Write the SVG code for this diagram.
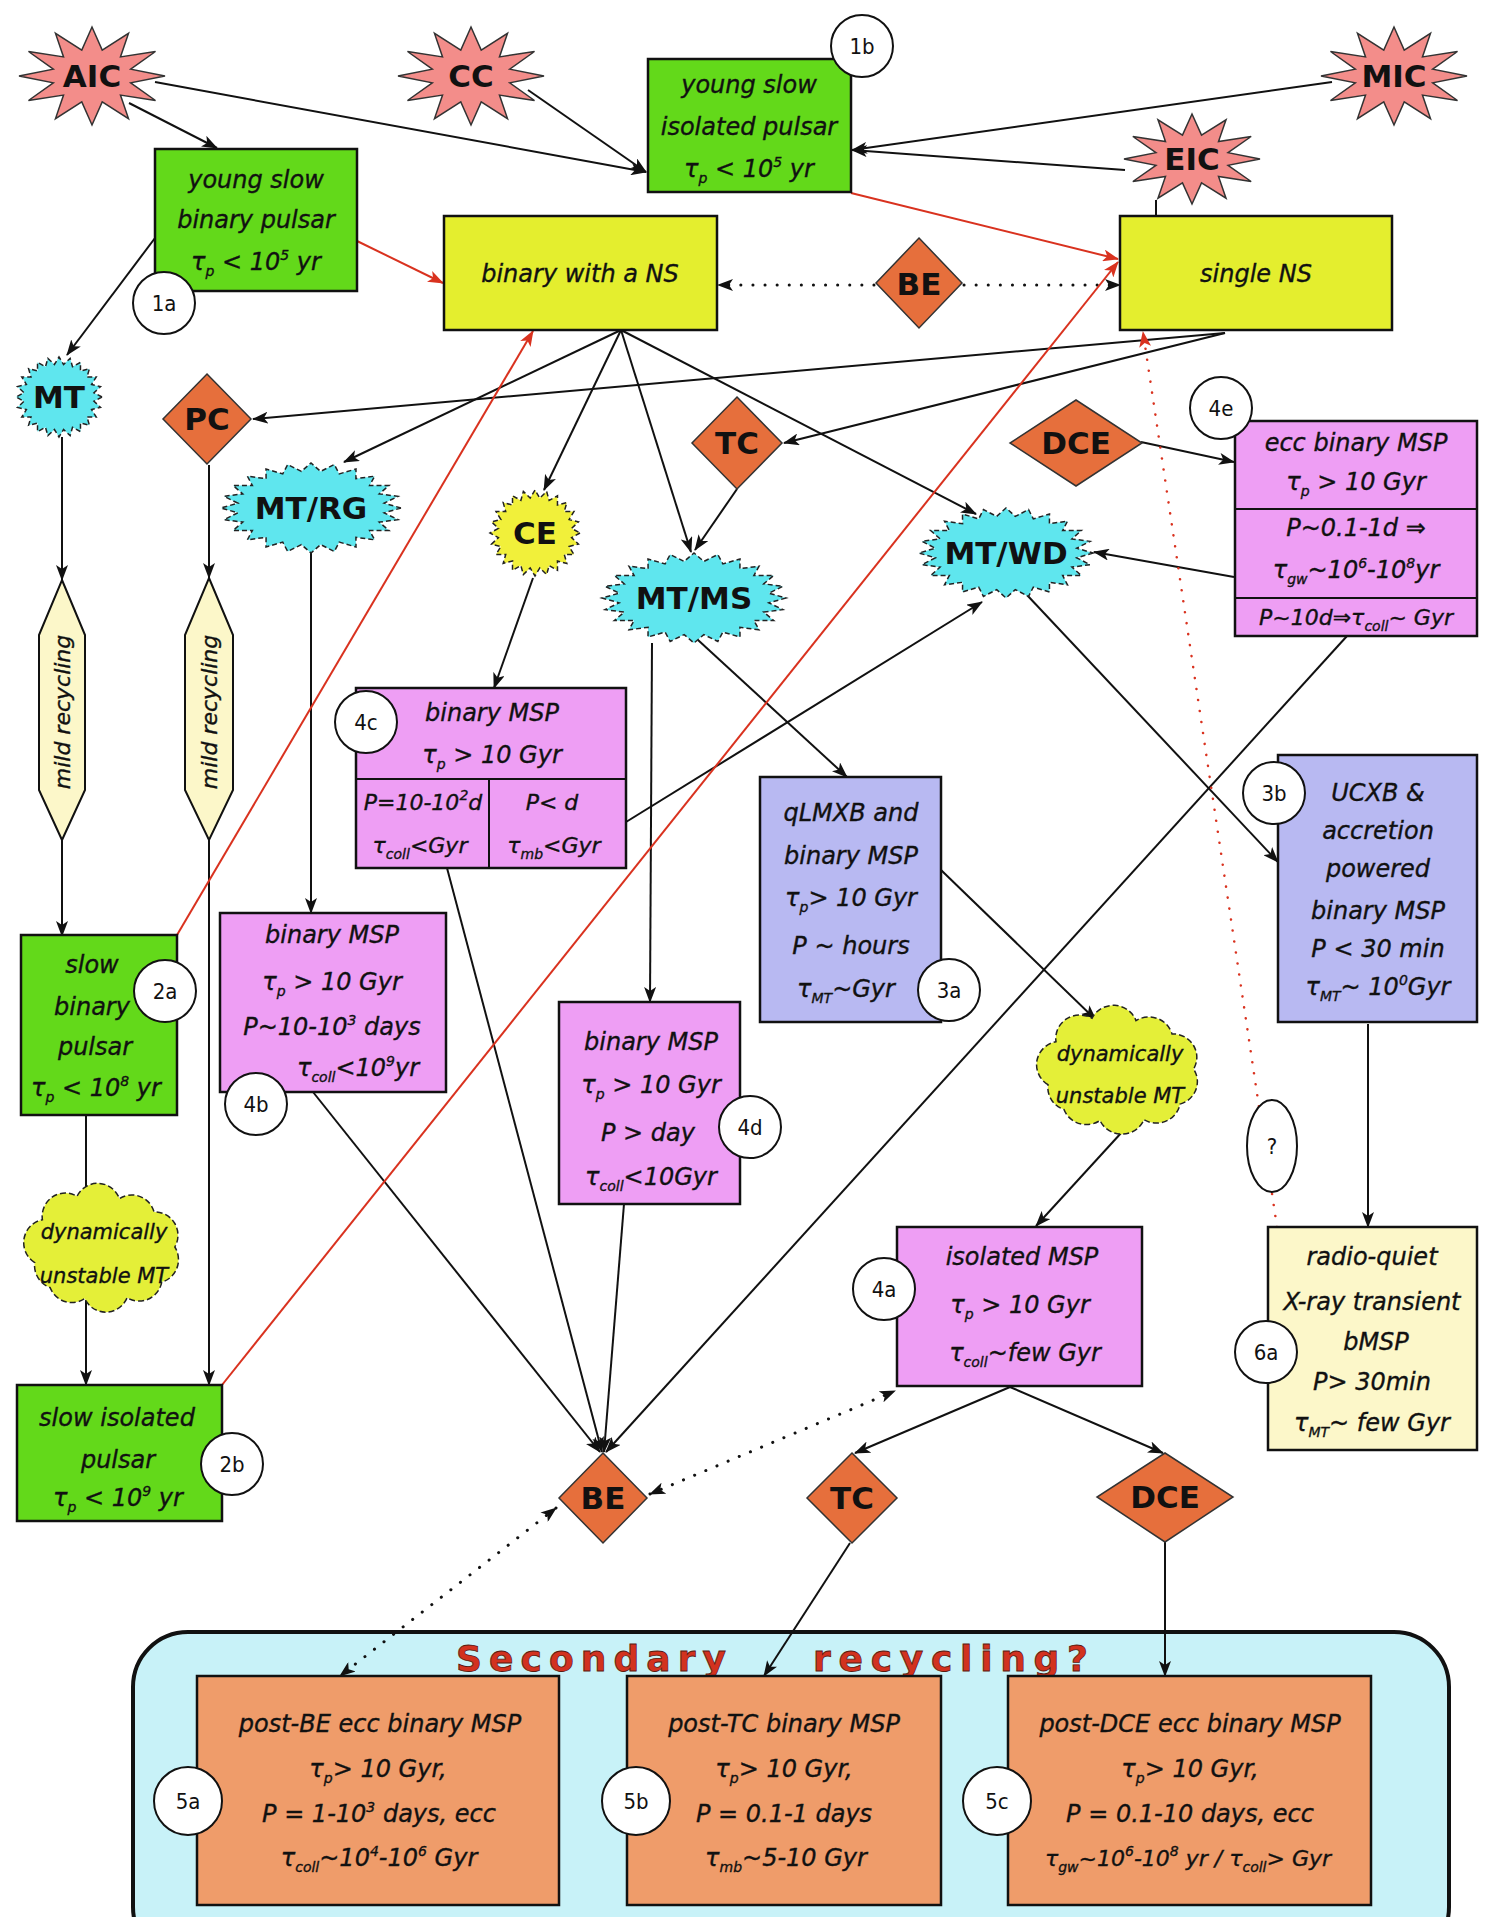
<svg xmlns="http://www.w3.org/2000/svg" width="1489" height="1917" viewBox="0 0 1489 1917">
<defs>
<style>
.t{font-family:"DejaVu Sans","Liberation Sans",sans-serif;font-style:italic;font-size:24px;text-anchor:middle;fill:#111;stroke:#111;stroke-width:0.35}
.s{font-size:14px}
.lb{font-family:"DejaVu Sans","Liberation Sans",sans-serif;font-weight:bold;font-size:31px;text-anchor:middle;fill:#111}
.n{font-family:"DejaVu Sans Condensed","DejaVu Sans",sans-serif;font-size:22px;text-anchor:middle;fill:#111}
.bx{stroke:#111;stroke-width:2.5}
.g{fill:#63d91a}.y{fill:#e4ee2e}.p{fill:#ee9ef4}.v{fill:#b8b9f2}.c{fill:#fcf7c9}.o{fill:#ef9c6a}
.dm{fill:#e66f3c;stroke:#333;stroke-width:1.5}
.pk{fill:#f38d8a;stroke:#333;stroke-width:1.5}
.cy{fill:#5fe6ee;stroke:#222;stroke-width:1.5;stroke-dasharray:5 3}
.ce{fill:#f1f03a;stroke:#222;stroke-width:1.5;stroke-dasharray:5 3}
.cl{fill:#e4ef38;stroke:#222;stroke-width:1.5;stroke-dasharray:6 3}
.ci{fill:#fff;stroke:#111;stroke-width:2}
.mr{fill:#fcf7c9;stroke:#111;stroke-width:2}
.k{fill:none;stroke:#111;stroke-width:2;marker-end:url(#a)}
.k0{fill:none;stroke:#111;stroke-width:2}
.r{fill:none;stroke:#d9321f;stroke-width:2;marker-end:url(#ar)}
.rd{fill:none;stroke:#d9321f;stroke-width:2.5;stroke-dasharray:0.1 11;stroke-linecap:round;marker-end:url(#ar)}
.d{fill:none;stroke:#111;stroke-width:3;stroke-dasharray:0.1 12;stroke-linecap:round;marker-end:url(#a)}
.d2{fill:none;stroke:#111;stroke-width:3;stroke-dasharray:0.1 12;stroke-linecap:round;marker-end:url(#a);marker-start:url(#a)}
.sr{font-family:"DejaVu Sans","Liberation Sans",sans-serif;font-weight:bold;font-size:36px;fill:#d2321f;stroke:#5a1a10;stroke-width:0.8}
</style>
<marker id="a" viewBox="0 0 16 12" refX="15" refY="6" markerWidth="16" markerHeight="12" markerUnits="userSpaceOnUse" orient="auto-start-reverse"><path d="M0,0 L16,6 L0,12 L4,6 z" fill="#111"/></marker>
<marker id="ar" viewBox="0 0 16 12" refX="15" refY="6" markerWidth="16" markerHeight="12" markerUnits="userSpaceOnUse" orient="auto-start-reverse"><path d="M0,0 L16,6 L0,12 L4,6 z" fill="#d9321f"/></marker>
<polygon id="pkb" vector-effect="non-scaling-stroke" points="1,0 .53,.14 .87,.5 .39,.39 .5,.87 .14,.53 0,1 -.14,.53 -.5,.87 -.39,.39 -.87,.5 -.53,.14 -1,0 -.53,-.14 -.87,-.5 -.39,-.39 -.5,-.87 -.14,-.53 0,-1 .14,-.53 .5,-.87 .39,-.39 .87,-.5 .53,-.14"/>
<polygon id="cyb" vector-effect="non-scaling-stroke" points="1,0 .813,.107 .966,.259 .758,.314 .866,.5 .651,.499 .707,.707 .499,.651 .5,.866 .314,.758 .259,.966 .107,.813 0,1 -.107,.813 -.259,.966 -.314,.758 -.5,.866 -.499,.651 -.707,.707 -.651,.499 -.866,.5 -.758,.314 -.966,.259 -.813,.107 -1,0 -.813,-.107 -.966,-.259 -.758,-.314 -.866,-.5 -.651,-.499 -.707,-.707 -.499,-.651 -.5,-.866 -.314,-.758 -.259,-.966 -.107,-.813 0,-1 .107,-.813 .259,-.966 .314,-.758 .5,-.866 .499,-.651 .707,-.707 .651,-.499 .866,-.5 .758,-.314 .966,-.259 .813,-.107"/>
<path id="cld" vector-effect="non-scaling-stroke" d="M-90,20 A30,30 0 0 1 -80,-35 A30,30 0 0 1 -35,-65 A30,30 0 0 1 20,-62 A30,30 0 0 1 65,-45 A30,30 0 0 1 92,0 A30,30 0 0 1 75,45 A30,30 0 0 1 30,65 A30,30 0 0 1 -25,66 A30,30 0 0 1 -70,52 A30,30 0 0 1 -90,20 Z"/>
</defs>
<rect width="1489" height="1917" fill="#fff"/>

<g id="secondary">
<rect x="133" y="1632" width="1316" height="330" rx="55" fill="#c8f2f8" stroke="#111" stroke-width="4"/>
<text class="sr" x="456" y="1671" textLength="270" lengthAdjust="spacing">Secondary</text>
<text class="sr" x="813" y="1671" textLength="275" lengthAdjust="spacing">recycling?</text>
</g>

<g id="connectors">
<path class="k" d="M129,103 L217,148"/>
<path class="k" d="M155,82 L646,172"/>
<path class="k" d="M528,90 L646,172"/>
<path class="k" d="M1332,82 L852,150"/>
<path class="k" d="M1125,170 L852,150"/>
<path class="k0" d="M1156,200 L1156,216"/>
<path class="k" d="M155,238 L67,355"/>
<path class="k" d="M621,330 L344,462"/>
<path class="k" d="M621,330 L544,490"/>
<path class="k" d="M621,330 L691,552"/>
<path class="k" d="M621,330 L976,514"/>
<path class="k" d="M1225,333 L253,419"/>
<path class="k" d="M1225,333 L784,443"/>
<path class="k" d="M737,489 L695,550"/>
<path class="k" d="M1141,442 L1234,462"/>
<path class="k" d="M1234,577 L1094,552"/>
<path class="k" d="M626,822 L982,602"/>
<path class="k" d="M1347,636 L606,1452"/>
<path class="k" d="M1027,595 L1278,862"/>
<path class="k" d="M698,640 L847,777"/>
<path class="k" d="M652,643 L650,1002"/>
<path class="k" d="M311,553 L311,913"/>
<path class="k" d="M533,578 L494,688"/>
<path class="k" d="M62,437 L62,580"/>
<path class="k" d="M209,465 L209,578"/>
<path class="k" d="M62,840 L62,936"/>
<path class="k" d="M209,840 L209,1385"/>
<path class="k0" d="M86,1115 L86,1190"/>
<path class="k" d="M86,1300 L86,1385"/>
<path class="k" d="M447,868 L602,1452"/>
<path class="k" d="M313,1092 L600,1452"/>
<path class="k" d="M624,1204 L604,1452"/>
<path class="k" d="M941,870 L1096,1020"/>
<path class="k" d="M1122,1132 L1036,1226"/>
<path class="k" d="M1368,1024 L1368,1227"/>
<path class="k" d="M1010,1387 L855,1453"/>
<path class="k" d="M1010,1387 L1163,1453"/>
<path class="k" d="M850,1543 L764,1676"/>
<path class="k" d="M1165,1542 L1165,1676"/>
<path class="d" d="M874,285 L718,285"/>
<path class="d" d="M964,285 L1120,285"/>
<path class="d2" d="M650,1494 L895,1391"/>
<path class="d2" d="M556,1508 L340,1676"/>
<path class="r" d="M357,241 L443,283"/>
<path class="r" d="M851,193 L1118,259"/>
<path class="r" d="M177,935 L533,331"/>
<path class="r" d="M222,1385 L1118,262"/>
<path class="rd" d="M1277,1227 L1143,332"/>
</g>

<g id="AIC"><use href="#pkb" class="pk" transform="translate(92,76) scale(73,49)"/><text class="lb" x="92" y="87">AIC</text></g>
<g id="CC"><use href="#pkb" class="pk" transform="translate(471,76) scale(73,49)"/><text class="lb" x="471" y="87">CC</text></g>
<g id="MIC"><use href="#pkb" class="pk" transform="translate(1394,76) scale(73,49)"/><text class="lb" x="1394" y="87">MIC</text></g>
<g id="EIC"><use href="#pkb" class="pk" transform="translate(1192,159) scale(68,45)"/><text class="lb" x="1192" y="170">EIC</text></g>

<g id="n1b"><rect class="bx g" x="648" y="59" width="203" height="133"/>
<text class="t" x="749" y="93">young slow</text>
<text class="t" x="749" y="135">isolated pulsar</text>
<text class="t" x="749" y="177">τ<tspan class="s" dy="6">p</tspan><tspan dy="-6"> &lt; 10</tspan><tspan class="s" dy="-10">5</tspan><tspan dy="10"> yr</tspan></text>
<circle class="ci" cx="862" cy="46" r="31"/><text class="n" x="862" y="54">1b</text></g>

<g id="n1a"><rect class="bx g" x="155" y="149" width="202" height="142"/>
<text class="t" x="256" y="188">young slow</text>
<text class="t" x="256" y="228">binary pulsar</text>
<text class="t" x="256" y="270">τ<tspan class="s" dy="6">p</tspan><tspan dy="-6"> &lt; 10</tspan><tspan class="s" dy="-10">5</tspan><tspan dy="10"> yr</tspan></text>
<circle class="ci" cx="164" cy="303" r="31"/><text class="n" x="164" y="311">1a</text></g>

<g id="binNS"><rect class="bx y" x="444" y="216" width="273" height="114"/><text class="t" x="580" y="282">binary with a NS</text></g>
<g id="singleNS"><rect class="bx y" x="1120" y="216" width="272" height="114"/><text class="t" x="1256" y="282">single NS</text></g>
<g id="BE1"><polygon class="dm" points="919,238 962,283 919,328 876,283"/><text class="lb" x="919" y="295">BE</text></g>

<g id="MT"><use href="#cyb" class="cy" transform="translate(59,397) scale(43,40)"/><text class="lb" x="59" y="408">MT</text></g>
<g id="PC"><polygon class="dm" points="207,374 251,419 207,464 163,419"/><text class="lb" x="207" y="430">PC</text></g>
<g id="MTRG"><use href="#cyb" class="cy" transform="translate(311,508) scale(90,45)"/><text class="lb" x="311" y="519">MT/RG</text></g>
<g id="CE"><use href="#cyb" class="ce" transform="translate(535,533) scale(45,43)"/><text class="lb" x="535" y="544">CE</text></g>
<g id="TC1"><polygon class="dm" points="737,397 782,443 737,489 692,443"/><text class="lb" x="737" y="454">TC</text></g>
<g id="MTMS"><use href="#cyb" class="cy" transform="translate(694,598) scale(92,45)"/><text class="lb" x="694" y="609">MT/MS</text></g>
<g id="DCE1"><polygon class="dm" points="1076,400 1142,443 1076,486 1010,443"/><text class="lb" x="1076" y="454">DCE</text></g>
<g id="MTWD"><use href="#cyb" class="cy" transform="translate(1006,553) scale(87,45)"/><text class="lb" x="1006" y="564">MT/WD</text></g>

<g id="n4e"><rect class="bx p" x="1235" y="421" width="242" height="215"/>
<path class="k0" d="M1235,509 L1477,509 M1235,598 L1477,598" stroke-width="2.5"/>
<text class="t" x="1356" y="451">ecc binary MSP</text>
<text class="t" x="1356" y="490">τ<tspan class="s" dy="6">p</tspan><tspan dy="-6"> &gt; 10 Gyr</tspan></text>
<text class="t" x="1356" y="536">P~0.1-1d ⇒</text>
<text class="t" x="1356" y="578">τ<tspan class="s" dy="6">gw</tspan><tspan dy="-6">~10</tspan><tspan class="s" dy="-10">6</tspan><tspan dy="10">-10</tspan><tspan class="s" dy="-10">8</tspan><tspan dy="10">yr</tspan></text>
<text class="t" x="1356" y="625" style="font-size:22px">P~10d⇒τ<tspan class="s" dy="6">coll</tspan><tspan dy="-6">~ Gyr</tspan></text>
<circle class="ci" cx="1221" cy="408" r="31"/><text class="n" x="1221" y="416">4e</text></g>

<g id="mild1"><polygon class="mr" points="62,580 85,635 85,790 62,840 39,790 39,635"/><text class="t" transform="translate(70,712) rotate(-90)" x="0" y="0" style="font-size:22px">mild recycling</text></g>
<g id="mild2"><polygon class="mr" points="209,578 233,635 233,790 209,840 185,790 185,635"/><text class="t" transform="translate(217,712) rotate(-90)" x="0" y="0" style="font-size:22px">mild recycling</text></g>

<g id="n4c"><rect class="bx p" x="356" y="688" width="270" height="180"/>
<path class="k0" d="M356,779 L626,779 M489,779 L489,868" stroke-width="2.5"/>
<text class="t" x="492" y="721">binary MSP</text>
<text class="t" x="492" y="763">τ<tspan class="s" dy="6">p</tspan><tspan dy="-6"> &gt; 10 Gyr</tspan></text>
<text class="t" x="423" y="810" style="font-size:22px">P=10-10<tspan class="s" dy="-10">2</tspan><tspan dy="10">d</tspan></text>
<text class="t" x="420" y="853" style="font-size:22px">τ<tspan class="s" dy="6">coll</tspan><tspan dy="-6">&lt;Gyr</tspan></text>
<text class="t" x="552" y="810" style="font-size:22px">P&lt; d</text>
<text class="t" x="554" y="853" style="font-size:22px">τ<tspan class="s" dy="6">mb</tspan><tspan dy="-6">&lt;Gyr</tspan></text>
<circle class="ci" cx="366" cy="722" r="31"/><text class="n" x="366" y="730">4c</text></g>

<g id="n3a"><rect class="bx v" x="760" y="777" width="181" height="245"/>
<text class="t" x="851" y="821">qLMXB and</text>
<text class="t" x="851" y="864">binary MSP</text>
<text class="t" x="851" y="906">τ<tspan class="s" dy="6">p</tspan><tspan dy="-6">&gt; 10 Gyr</tspan></text>
<text class="t" x="851" y="954">P ~ hours</text>
<text class="t" x="846" y="997">τ<tspan class="s" dy="6">MT</tspan><tspan dy="-6">~Gyr</tspan></text>
<circle class="ci" cx="949" cy="990" r="31"/><text class="n" x="949" y="998">3a</text></g>

<g id="n3b"><rect class="bx v" x="1278" y="755" width="199" height="267"/>
<text class="t" x="1378" y="801">UCXB &amp;</text>
<text class="t" x="1378" y="839">accretion</text>
<text class="t" x="1378" y="877">powered</text>
<text class="t" x="1378" y="919">binary MSP</text>
<text class="t" x="1378" y="957">P &lt; 30 min</text>
<text class="t" x="1378" y="995">τ<tspan class="s" dy="6">MT</tspan><tspan dy="-6">~ 10</tspan><tspan class="s" dy="-10">0</tspan><tspan dy="10">Gyr</tspan></text>
<circle class="ci" cx="1274" cy="793" r="31"/><text class="n" x="1274" y="801">3b</text></g>

<g id="n2a"><rect class="bx g" x="21" y="935" width="156" height="180"/>
<text class="t" x="92" y="973">slow</text>
<text class="t" x="92" y="1015">binary</text>
<text class="t" x="95" y="1055">pulsar</text>
<text class="t" x="96" y="1096">τ<tspan class="s" dy="6">p</tspan><tspan dy="-6"> &lt; 10</tspan><tspan class="s" dy="-10">8</tspan><tspan dy="10"> yr</tspan></text>
<circle class="ci" cx="165" cy="991" r="31"/><text class="n" x="165" y="999">2a</text></g>

<g id="n4b"><rect class="bx p" x="220" y="913" width="226" height="179"/>
<text class="t" x="332" y="943">binary MSP</text>
<text class="t" x="332" y="990">τ<tspan class="s" dy="6">p</tspan><tspan dy="-6"> &gt; 10 Gyr</tspan></text>
<text class="t" x="332" y="1035">P~10-10<tspan class="s" dy="-10">3</tspan><tspan dy="10"> days</tspan></text>
<text class="t" x="358" y="1076">τ<tspan class="s" dy="6">coll</tspan><tspan dy="-6">&lt;10</tspan><tspan class="s" dy="-10">9</tspan><tspan dy="10">yr</tspan></text>
<circle class="ci" cx="256" cy="1104" r="31"/><text class="n" x="256" y="1112">4b</text></g>

<g id="n4d"><rect class="bx p" x="559" y="1002" width="181" height="202"/>
<text class="t" x="651" y="1050">binary MSP</text>
<text class="t" x="651" y="1093">τ<tspan class="s" dy="6">p</tspan><tspan dy="-6"> &gt; 10 Gyr</tspan></text>
<text class="t" x="648" y="1141">P &gt; day</text>
<text class="t" x="651" y="1185">τ<tspan class="s" dy="6">coll</tspan><tspan dy="-6">&lt;10Gyr</tspan></text>
<circle class="ci" cx="750" cy="1127" r="31"/><text class="n" x="750" y="1135">4d</text></g>

<g id="cloudR"><use href="#cld" class="cl" transform="translate(1120,1069) scale(0.8,0.78)"/>
<text class="t" x="1120" y="1061" style="font-size:21px">dynamically</text>
<text class="t" x="1120" y="1103" style="font-size:21px">unstable MT</text></g>

<g id="q"><ellipse class="ci" cx="1272" cy="1146" rx="25" ry="46"/><text class="n" x="1272" y="1154">?</text></g>

<g id="n6a"><rect class="bx c" x="1268" y="1227" width="209" height="223"/>
<text class="t" x="1372" y="1265">radio-quiet</text>
<text class="t" x="1372" y="1310">X-ray transient</text>
<text class="t" x="1376" y="1350">bMSP</text>
<text class="t" x="1372" y="1390">P&gt; 30min</text>
<text class="t" x="1372" y="1431">τ<tspan class="s" dy="6">MT</tspan><tspan dy="-6">~ few Gyr</tspan></text>
<circle class="ci" cx="1266" cy="1352" r="31"/><text class="n" x="1266" y="1360">6a</text></g>

<g id="n4a"><rect class="bx p" x="897" y="1227" width="245" height="159"/>
<text class="t" x="1022" y="1265">isolated MSP</text>
<text class="t" x="1020" y="1313">τ<tspan class="s" dy="6">p</tspan><tspan dy="-6"> &gt; 10 Gyr</tspan></text>
<text class="t" x="1025" y="1361">τ<tspan class="s" dy="6">coll</tspan><tspan dy="-6">~few Gyr</tspan></text>
<circle class="ci" cx="884" cy="1289" r="31"/><text class="n" x="884" y="1297">4a</text></g>

<g id="cloudL"><use href="#cld" class="cl" transform="translate(104,1247) scale(0.77,0.78)"/>
<text class="t" x="104" y="1239" style="font-size:21px">dynamically</text>
<text class="t" x="104" y="1283" style="font-size:21px">unstable MT</text></g>

<g id="n2b"><rect class="bx g" x="17" y="1385" width="205" height="136"/>
<text class="t" x="117" y="1426">slow isolated</text>
<text class="t" x="118" y="1468">pulsar</text>
<text class="t" x="118" y="1506">τ<tspan class="s" dy="6">p</tspan><tspan dy="-6"> &lt; 10</tspan><tspan class="s" dy="-10">9</tspan><tspan dy="10"> yr</tspan></text>
<circle class="ci" cx="232" cy="1464" r="31"/><text class="n" x="232" y="1472">2b</text></g>

<g id="BE2"><polygon class="dm" points="603,1453 647,1498 603,1543 559,1498"/><text class="lb" x="603" y="1509">BE</text></g>
<g id="TC2"><polygon class="dm" points="852,1453 897,1498 852,1543 807,1498"/><text class="lb" x="852" y="1509">TC</text></g>
<g id="DCE2"><polygon class="dm" points="1165,1453 1233,1497 1165,1542 1097,1497"/><text class="lb" x="1165" y="1508">DCE</text></g>

<g id="n5a"><rect class="bx o" x="197" y="1676" width="362" height="229"/>
<text class="t" x="380" y="1732">post-BE ecc binary MSP</text>
<text class="t" x="378" y="1777">τ<tspan class="s" dy="6">p</tspan><tspan dy="-6">&gt; 10 Gyr,</tspan></text>
<text class="t" x="379" y="1822">P = 1-10<tspan class="s" dy="-10">3</tspan><tspan dy="10"> days, ecc</tspan></text>
<text class="t" x="379" y="1866">τ<tspan class="s" dy="6">coll</tspan><tspan dy="-6">~10</tspan><tspan class="s" dy="-10">4</tspan><tspan dy="10">-10</tspan><tspan class="s" dy="-10">6</tspan><tspan dy="10"> Gyr</tspan></text>
<circle class="ci" cx="188" cy="1801" r="34"/><text class="n" x="188" y="1809">5a</text></g>

<g id="n5b"><rect class="bx o" x="627" y="1676" width="314" height="229"/>
<text class="t" x="784" y="1732">post-TC binary MSP</text>
<text class="t" x="784" y="1777">τ<tspan class="s" dy="6">p</tspan><tspan dy="-6">&gt; 10 Gyr,</tspan></text>
<text class="t" x="784" y="1822">P = 0.1-1 days</text>
<text class="t" x="786" y="1866">τ<tspan class="s" dy="6">mb</tspan><tspan dy="-6">~5-10 Gyr</tspan></text>
<circle class="ci" cx="636" cy="1801" r="34"/><text class="n" x="636" y="1809">5b</text></g>

<g id="n5c"><rect class="bx o" x="1008" y="1676" width="363" height="229"/>
<text class="t" x="1190" y="1732">post-DCE ecc binary MSP</text>
<text class="t" x="1190" y="1777">τ<tspan class="s" dy="6">p</tspan><tspan dy="-6">&gt; 10 Gyr,</tspan></text>
<text class="t" x="1190" y="1822">P = 0.1-10 days, ecc</text>
<text class="t" x="1188" y="1866" style="font-size:22px">τ<tspan class="s" dy="6">gw</tspan><tspan dy="-6">~10</tspan><tspan class="s" dy="-10">6</tspan><tspan dy="10">-10</tspan><tspan class="s" dy="-10">8</tspan><tspan dy="10"> yr / τ</tspan><tspan class="s" dy="6">coll</tspan><tspan dy="-6">&gt; Gyr</tspan></text>
<circle class="ci" cx="997" cy="1801" r="34"/><text class="n" x="997" y="1809">5c</text></g>
</svg>
